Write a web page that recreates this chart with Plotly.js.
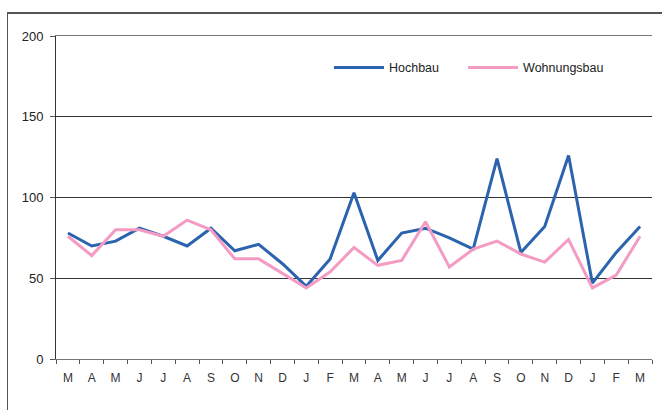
<!DOCTYPE html>
<html>
<head>
<meta charset="utf-8">
<script src="https://cdn.plot.ly/plotly-3.0.1.min.js"></script>
<style>
  html, body { margin: 0; padding: 0; background: #fff; }
  #wrap { position: relative; width: 662px; height: 410px; overflow: hidden; }
  #chart { position: absolute; left: 0; top: 0; width: 662px; height: 410px; }
  #frame { position: absolute; left: 7px; top: 12px; width: 660px; height: 400px;
           border-top: 2px solid #555; border-left: 1px solid #555; pointer-events: none; }
</style>
</head>
<body>
<div id="wrap">
  <div id="chart"></div>
  <div id="frame"></div>
</div>
<script>
const months = ["M","A","M","J","J","A","S","O","N","D","J","F","M","A","M","J","J","A","S","O","N","D","J","F","M"];
const hochbau = [78,70,73,81,76,70,81,67,71,59,45,62,103,61,78,81,75,68,124,66,82,126,47,66,82];
const wohnungsbau = [76,64,80,80,76,86,80,62,62,53,44,54,69,58,61,85,57,68,73,65,60,74,44,52,76];

const idx = months.map((_, i) => i);

const traces = [
  { x: idx, y: hochbau, name: "Hochbau", type: "scatter", mode: "lines",
    line: { color: "#2B63AE", width: 3 }, legend: "legend" },
  { x: idx, y: wohnungsbau, name: "Wohnungsbau", type: "scatter", mode: "lines",
    line: { color: "#F49BC4", width: 3 }, legend: "legend2" }
];

const legendBase = { orientation: "h", y: 0.901, xanchor: "left", yanchor: "middle",
  font: { size: 12.5, color: "#222" }, bgcolor: "rgba(0,0,0,0)", itemwidth: 50 };

const layout = {
  width: 662, height: 410,
  margin: { l: 56, r: 10, t: 36, b: 51, autoexpand: false },
  paper_bgcolor: "#fff", plot_bgcolor: "#fff",
  font: { family: "Liberation Sans, Arial, sans-serif", size: 12, color: "#222" },
  showlegend: true,
  legend: Object.assign({}, legendBase, { x: 0.458 }),
  legend2: Object.assign({}, legendBase, { x: 0.683 }),
  xaxis: {
    range: [-0.5, 24.5], tickmode: "array", tickvals: idx, ticktext: months,
    ticks: "", showgrid: false, zeroline: false,
    showline: true, linecolor: "#777", linewidth: 1, mirror: true,
    ticklabelstandoff: 8,
    tickfont: { size: 12, color: "#333" },
    minor: { tick0: -0.5, dtick: 1, ticks: "outside", ticklen: 4, tickcolor: "#555", tickwidth: 1, showgrid: false }
  },
  yaxis: {
    range: [0, 200], tickmode: "array", tickvals: [0,50,100,150,200],
    ticks: "outside", ticklen: 5, tickcolor: "#555",
    ticklabelstandoff: 4,
    tickfont: { size: 13, color: "#222" },
    showgrid: true, gridcolor: "#333", gridwidth: 1,
    zeroline: false, showline: true, linecolor: "#333", linewidth: 1
  }
};

Plotly.newPlot("chart", traces, layout, { displayModeBar: false, staticPlot: true });
</script>
</body>
</html>
